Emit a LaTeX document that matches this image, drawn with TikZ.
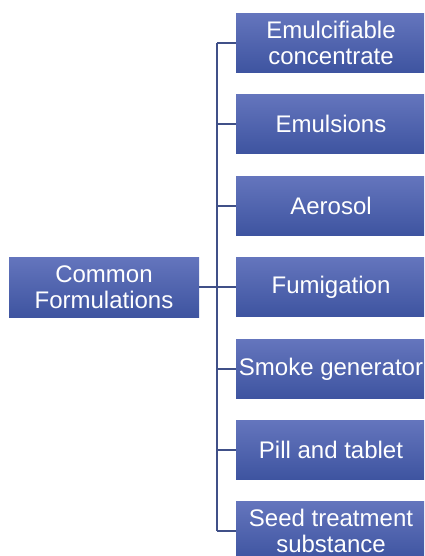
\documentclass[tikz,border=0pt]{standalone}
\usepackage{fontspec}
\setmainfont{Liberation Sans}
\definecolor{boxtop}{RGB}{100,117,189}
\definecolor{boxbottom}{RGB}{62,84,160}
\definecolor{linkcol}{RGB}{64,80,136}
\begin{document}
\begin{tikzpicture}[x=1pt,y=-1pt,
  box/.style={rectangle, top color=boxtop, bottom color=boxbottom, draw=none,
    text=white, align=center, inner sep=0pt,
    minimum width=190pt, minimum height=59pt,
    font=\fontsize{24}{26}\selectfont},
  link/.style={draw=linkcol, line width=1.3pt}]
\useasboundingbox (0,0) rectangle (424,556);
\begin{scope}
\clip (0,0) rectangle (424,556);
% root
\node[box, minimum height=60pt] (root) at (104,287) {Common\\Formulations};
% children
\node[box] (c1) at (331,43)  {Emulcifiable\\concentrate};
\node[box] (c2) at (331,124) {Emulsions};
\node[box] (c3) at (331,206) {Aerosol};
\node[box] (c4) at (331,287) {Fumigation};
\node[box] (c5) at (331,369) {Smoke generator};
\node[box] (c6) at (331,450) {Pill and tablet};
\node[box] (c7) at (331,531) {Seed treatment\\substance};
% connectors
\coordinate (spine) at (217,0);
\draw[link] (root.east) -- (root.east -| spine);
\draw[link] (c1.west -| spine) -- (c7.west -| spine);
\foreach \c in {c1,c2,c3,c4,c5,c6,c7}
  \draw[link] (\c.west -| spine) -- (\c.west);
\end{scope}
\end{tikzpicture}
\end{document}
